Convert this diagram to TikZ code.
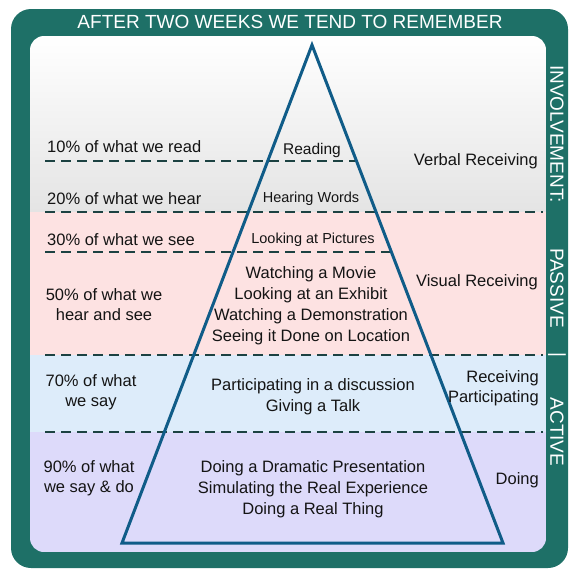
\documentclass[tikz,border=0pt]{standalone}
\usepackage{fontspec}
\setmainfont{Liberation Sans}
\usetikzlibrary{calc}
\definecolor{tealbg}{RGB}{30,112,103}
\definecolor{pinkband}{RGB}{253,226,226}
\definecolor{blueband}{RGB}{221,236,250}
\definecolor{lavband}{RGB}{221,218,250}
\definecolor{grayband}{RGB}{228,228,228}
\definecolor{tricol}{RGB}{16,92,136}
\definecolor{dashcol}{RGB}{28,66,66}
\definecolor{txt}{RGB}{20,20,20}
\begin{document}
\begin{tikzpicture}[x=1pt,y=-1pt,
  lbl/.style={text=txt,font=\fontsize{16.5}{20}\selectfont,inner sep=0pt,align=center},
  small/.style={text=txt,font=\fontsize{14.5}{16}\selectfont,inner sep=0pt},
  side/.style={text=white,font=\fontsize{19}{22}\selectfont,inner sep=0pt,rotate=-90},
  sep/.style={draw=dashcol,line width=2pt,dash pattern=on 10pt off 6pt},
  tri/.style={draw=tricol,line width=3pt,line join=miter}]
\useasboundingbox (0,0) rectangle (568,570);
\fill[tealbg,rounded corners=20pt] (11,9) rectangle (568,568);
\begin{scope}
\clip[rounded corners=14pt] (30,36) rectangle (546,552);
\shade[top color=white,bottom color=grayband] (30,36) rectangle (546,212);
\fill[pinkband] (30,212) rectangle (546,355);
\fill[blueband] (30,355) rectangle (546,432);
\fill[lavband] (30,432) rectangle (546,552);
\end{scope}
% triangle corners
\coordinate (apex) at (312,45);
\coordinate (bl) at (122,543);
\coordinate (br) at (503,543);
% separators
\coordinate (s1a) at (45,161);  \coordinate (s1b) at (356,161);
\coordinate (s2a) at (45,212);  \coordinate (s2b) at (543,212);
\coordinate (s3a) at (45,252);  \coordinate (s3b) at (391,252);
\coordinate (s4a) at (45,355);  \coordinate (s4b) at (543,355);
\coordinate (s5a) at (45,432);  \coordinate (s5b) at (543,432);
\draw[sep] (s1a) -- (s1b);
\draw[sep] (s2a) -- (s2b);
\draw[sep] (s3a) -- (s3b);
\draw[sep] (s4a) -- (s4b);
\draw[sep] (s5a) -- (s5b);
\draw[tri] (apex) -- (br) -- (bl) -- cycle;
% title
\node[text=white,font=\fontsize{19}{22}\selectfont,inner sep=0pt] (title) at (290,22) {AFTER TWO WEEKS WE TEND TO REMEMBER};
% side labels
\node[side] (inv) at (557,134) {INVOLVEMENT:};
\node[side] (pas) at (557,288) {PASSIVE};
\node[side] (bar) at (557,355) {|};
\node[side] (act) at (557,432) {ACTIVE};
% left labels
\node[lbl,anchor=west] (l10) at (47,147) {10\% of what we read};
\node[lbl,anchor=west] (l20) at (47,199) {20\% of what we hear};
\node[lbl,anchor=west] (l30) at (47,240) {30\% of what we see};
\node[lbl] (l50) at (104,305) {50\% of what we\\hear and see};
\node[lbl] (l70) at (91,392) {70\% of what\\we say};
\node[lbl] (l90) at (89,478) {90\% of what\\we say \& do};
% centre labels
\node[small,font=\fontsize{15.5}{17}\selectfont] (read) at (312,150) {Reading};
\node[small] (hear) at (311,199) {Hearing Words};
\node[small] (look) at (313,240) {Looking at Pictures};
\node[lbl,font=\fontsize{16.5}{21}\selectfont] (watch) at (311,306) {Watching a Movie\\Looking at an Exhibit\\Watching a Demonstration\\Seeing it Done on Location};
\node[lbl,font=\fontsize{16.5}{21}\selectfont] (part) at (313,397) {Participating in a discussion\\Giving a Talk};
\node[lbl,font=\fontsize{16.5}{21}\selectfont] (doing) at (313,489) {Doing a Dramatic Presentation\\Simulating the Real Experience\\Doing a Real Thing};
% right labels
\node[lbl,anchor=east] (verb) at (538,161) {Verbal Receiving};
\node[lbl,anchor=east] (vis) at (538,282) {Visual Receiving};
\node[lbl,anchor=east,align=right] (recp) at (539,388) {Receiving\\Participating};
\node[lbl,anchor=east] (do) at (539,480) {Doing};
\end{tikzpicture}
\end{document}
